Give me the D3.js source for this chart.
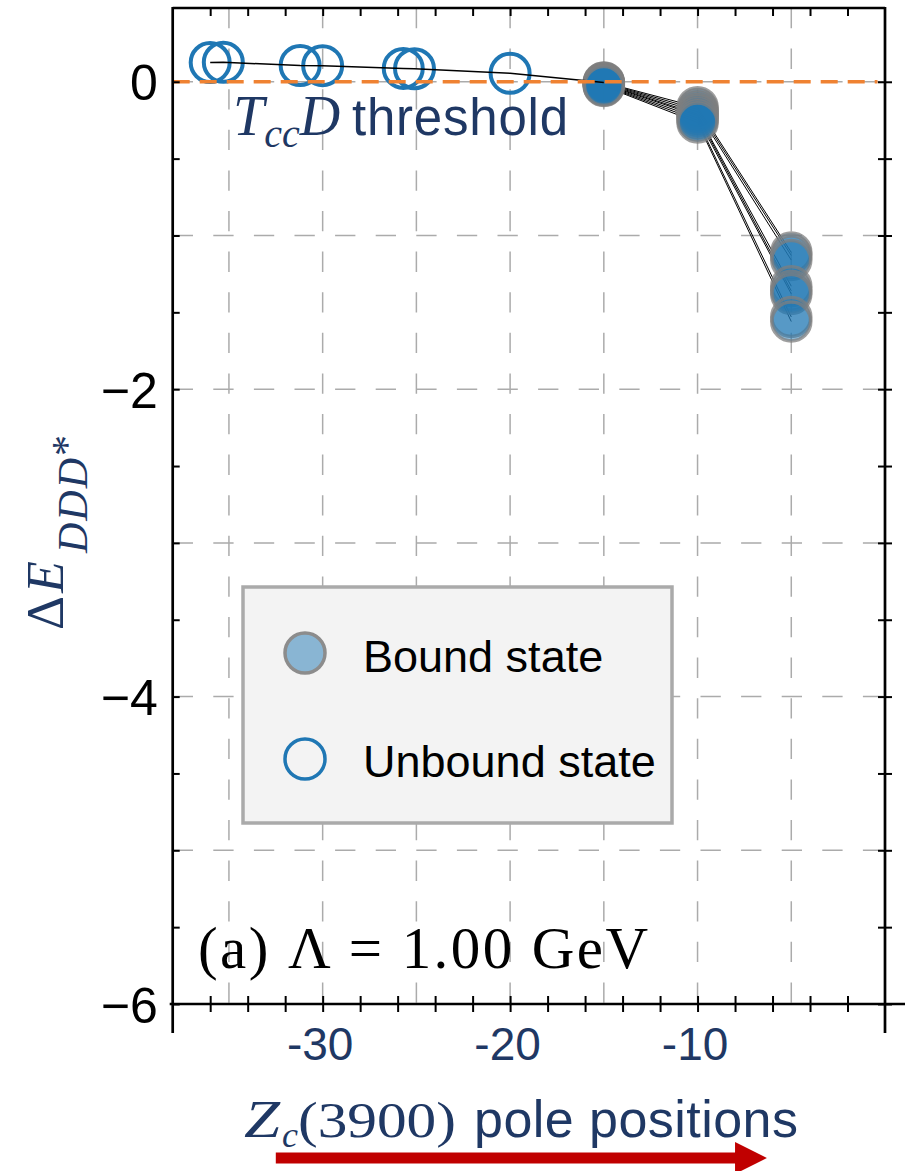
<!DOCTYPE html>
<html>
<head>
<meta charset="utf-8">
<script src="https://cdn.jsdelivr.net/npm/d3@7"></script>
<style>
  body { margin: 0; background: #fff; }
  svg { display: block; }
</style>
</head>
<body>
<div id="chart"></div>
<script>
// unbound (open) poles
const unboundX = [-36, -35.3, -31.2, -30, -25.7, -25.1, -20];
const unboundY = [0.125, 0.127, 0.106, 0.105, 0.087, 0.085, 0.055];

// bound (filled) poles: x positions and one row of energies per parameter set
const boundX = [-15, -10, -5];
const boundSeries = [
    [-0.004, -0.165, -1.11],
    [-0.007, -0.18, -1.13],
    [-0.01, -0.195, -1.16],
    [-0.013, -0.21, -1.33],
    [-0.016, -0.22, -1.36],
    [-0.02, -0.235, -1.38],
    [-0.024, -0.25, -1.53],
    [-0.028, -0.265, -1.56]
];

const xTickLabels = [-30, -20, -10];
const yTickLabels = [0, -2, -4, -6];
const xMinorTicks = d3.range(-36, -1, 2);
const yMinorTicks = d3.range(-6, 0.01, 0.5);
const xGrid = [-35, -30, -25, -20, -15, -10, -5];
const yGrid = [-5, -4, -3, -2, -1, 0];

const navy = '#1f3864';
const sans = "'Liberation Sans', Arial, sans-serif";
const serif = "'Liberation Serif', 'Times New Roman', serif";

const W = 912, H = 1171;
const margin = { top: 8, right: 27, bottom: 167, left: 172.7 };

const svg = d3.select('#chart').append('svg')
    .attr('width', W)
    .attr('height', H);

const x = d3.scaleLinear().domain([-38, 0]).range([margin.left, W - margin.right]);
const y = d3.scaleLinear().domain([-6, 0.48]).range([H - margin.bottom, margin.top]);
const [x0, x1] = x.range();
const [y0, y1] = y.range(); // y0 bottom, y1 top

// dashed grid
svg.append('g').selectAll('line').data(xGrid).enter().append('line')
    .attr('x1', d => x(d)).attr('x2', d => x(d))
    .attr('y1', y1).attr('y2', y0)
    .attr('stroke', '#ababab').attr('stroke-width', 1.5)
    .attr('stroke-dasharray', '20.3,20.3');

svg.append('g').selectAll('line').data(yGrid).enter().append('line')
    .attr('x1', x0).attr('x2', x1)
    .attr('y1', d => y(d)).attr('y2', d => y(d))
    .attr('stroke', '#ababab').attr('stroke-width', 1.5)
    .attr('stroke-dasharray', '20.3,20.3');

// bound lines
const line = d3.line().x(d => x(d[0])).y(d => y(d[1]));
svg.append('g').selectAll('path').data(boundSeries).enter().append('path')
    .attr('d', s => line(boundX.map((bx, i) => [bx, s[i]])))
    .attr('fill', 'none')
    .attr('stroke', '#000')
    .attr('stroke-width', 1);

// bound markers
const boundPts = [];
boundSeries.forEach(s => boundX.forEach((bx, i) => boundPts.push([bx, s[i]])));
svg.append('g').selectAll('circle').data(boundPts).enter().append('circle')
    .attr('cx', d => x(d[0]))
    .attr('cy', d => y(d[1]))
    .attr('r', 19.5)
    .attr('fill', '#1f77b4').attr('fill-opacity', 0.5)
    .attr('stroke', '#7f7f7f').attr('stroke-opacity', 0.75)
    .attr('stroke-width', 3.5);

// unbound markers
svg.append('g').selectAll('circle').data(unboundX).enter().append('circle')
    .attr('cx', d => x(d))
    .attr('cy', (d, i) => y(unboundY[i]))
    .attr('r', 19.5)
    .attr('fill', 'none')
    .attr('stroke', '#1f77b4')
    .attr('stroke-width', 4);

// unbound line running into the first bound pole
const unboundPath = unboundX.map((ux, i) => [ux, unboundY[i]]).concat([[boundX[0], boundSeries[0][0]]]);
svg.append('path')
    .attr('d', line(unboundPath))
    .attr('fill', 'none')
    .attr('stroke', '#000')
    .attr('stroke-width', 1.5);

// threshold line
svg.append('line')
    .attr('x1', x0).attr('x2', x(-0.4))
    .attr('y1', y(0)).attr('y2', y(0))
    .attr('stroke', '#ef8232').attr('stroke-width', 3.5)
    .attr('stroke-dasharray', '17,10');

// threshold text
const thr = svg.append('text')
    .attr('x', 233).attr('y', 135)
    .attr('fill', navy);
thr.append('tspan').attr('font-family', serif).attr('font-style', 'italic').attr('font-size', 56).text('T');
thr.append('tspan').attr('font-family', serif).attr('font-style', 'italic').attr('font-size', 40).attr('dy', 12).text('cc');
thr.append('tspan').attr('font-family', serif).attr('font-style', 'italic').attr('font-size', 56).attr('dy', -12).text('D');
thr.append('tspan').attr('x', 352).attr('font-family', sans).attr('font-size', 51).attr('textLength', 216).text('threshold');

// legend
const leg = svg.append('g');
leg.append('rect')
    .attr('x', 243).attr('y', 587).attr('width', 429).attr('height', 236)
    .attr('fill', '#f3f3f3').attr('stroke', '#aaaaaa').attr('stroke-width', 3.5);
leg.append('circle').attr('cx', 305).attr('cy', 653).attr('r', 20)
    .attr('fill', '#1f77b4').attr('fill-opacity', 0.5)
    .attr('stroke', '#8c8c8c').attr('stroke-width', 3.5);
leg.append('circle').attr('cx', 305).attr('cy', 759).attr('r', 20)
    .attr('fill', 'none').attr('stroke', '#1f77b4').attr('stroke-width', 3.5);
leg.append('text').attr('x', 363).attr('y', 672)
    .attr('font-family', sans).attr('font-size', 45).attr('fill', '#000').text('Bound state');
leg.append('text').attr('x', 363).attr('y', 777)
    .attr('font-family', sans).attr('font-size', 45).attr('fill', '#000').text('Unbound state');

// panel label
svg.append('text')
    .attr('x', 198).attr('y', 968)
    .attr('font-family', serif).attr('font-size', 59)
    .attr('textLength', 450).attr('lengthAdjust', 'spacing')
    .attr('fill', '#000')
    .text('(a) \u039B = 1.00 GeV');

// axes
const bottomAxis = svg.append('g')
    .attr('transform', `translate(0,${y0})`)
    .call(d3.axisBottom(x).tickValues(xMinorTicks).tickSize(8).tickSizeOuter(0)
        .tickFormat(d => xTickLabels.includes(d) ? String(d) : ''));
bottomAxis.select('.domain').remove();
bottomAxis.selectAll('.tick line').attr('y1', -8).attr('y2', 8).attr('stroke', '#000').attr('stroke-width', 2);
bottomAxis.selectAll('.tick text')
    .attr('y', 56).attr('dy', null).attr('dx', -3)
    .attr('font-family', sans).attr('font-size', 46).attr('fill', navy);

const topAxis = svg.append('g')
    .attr('transform', `translate(0,${y1})`)
    .call(d3.axisTop(x).tickValues(xMinorTicks).tickSize(-8).tickSizeOuter(0).tickFormat(''));
topAxis.select('.domain').remove();
topAxis.selectAll('.tick line').attr('stroke', '#000').attr('stroke-width', 2);

const leftAxis = svg.append('g')
    .attr('transform', `translate(${x0},0)`)
    .call(d3.axisLeft(y).tickValues(yMinorTicks).tickSize(-7).tickSizeOuter(0)
        .tickFormat(d => yTickLabels.includes(d) ? d3.format('d')(d) : ''));
leftAxis.select('.domain').remove();
leftAxis.selectAll('.tick line').attr('stroke', '#000').attr('stroke-width', 2);
leftAxis.selectAll('.tick text')
    .attr('x', -15).attr('dy', '0.36em')
    .attr('font-family', sans).attr('font-size', 50).attr('fill', '#000');

const rightAxis = svg.append('g')
    .attr('transform', `translate(${x1},0)`)
    .call(d3.axisRight(y).tickValues(yMinorTicks).tickSize(7).tickSizeOuter(0).tickFormat(''));
rightAxis.select('.domain').remove();
rightAxis.selectAll('.tick line').attr('x1', -7).attr('stroke', '#000').attr('stroke-width', 2);

// frame, with the long axis stubs of the original
const frame = svg.append('g').attr('stroke', '#000').attr('stroke-width', 2.7);
frame.append('line').attr('x1', x0).attr('x2', x0).attr('y1', y1 - 1).attr('y2', y0 + 29);
frame.append('line').attr('x1', x1).attr('x2', x1).attr('y1', y1 - 1).attr('y2', y0 + 29);
frame.append('line').attr('x1', x0).attr('x2', x1).attr('y1', y1).attr('y2', y1);
frame.append('line').attr('x1', x0 - 3).attr('x2', W - 7).attr('y1', y0).attr('y2', y0);

// y title
const yt = svg.append('text')
    .attr('transform', 'translate(63,630) rotate(-90)')
    .attr('fill', navy).attr('font-family', serif);
yt.append('tspan').attr('x', 0).attr('font-size', 52)
    .attr('textLength', 34).attr('lengthAdjust', 'spacingAndGlyphs').text('\u0394');
yt.append('tspan').attr('x', 37).attr('font-size', 52).attr('font-style', 'italic').text('E');
yt.append('tspan').attr('x', 77).attr('dy', 24).attr('font-size', 42).attr('font-style', 'italic')
    .attr('textLength', 95).text('DDD');
yt.append('tspan').attr('x', 174).attr('dy', -6).attr('font-size', 42).text('*');

// x title
const xt = svg.append('text').attr('y', 1137).attr('fill', navy);
xt.append('tspan').attr('x', 244).attr('font-family', serif).attr('font-style', 'italic').attr('font-size', 52)
    .attr('textLength', 36).attr('lengthAdjust', 'spacingAndGlyphs').text('Z');
xt.append('tspan').attr('x', 282).attr('dy', 10).attr('font-family', serif).attr('font-style', 'italic').attr('font-size', 36).text('c');
xt.append('tspan').attr('x', 298).attr('dy', -10).attr('font-family', serif).attr('font-size', 50)
    .attr('textLength', 158).attr('lengthAdjust', 'spacingAndGlyphs').text('(3900)');
xt.append('tspan').attr('x', 474).attr('font-family', sans).attr('font-size', 52)
    .attr('textLength', 324).text('pole positions');

// direction arrow under the x title
const ay = 1158;
const ax0 = x(-32.5), ax1 = x(-6.3), ahead = x(-8.0);
svg.append('path')
    .attr('d', `M${ax0},${ay - 5.5} L${ahead},${ay - 5.5} L${ahead},${ay - 16} L${ax1},${ay} L${ahead},${ay + 16} L${ahead},${ay + 5.5} L${ax0},${ay + 5.5} Z`)
    .attr('fill', '#c00000');
</script>
</body>
</html>
